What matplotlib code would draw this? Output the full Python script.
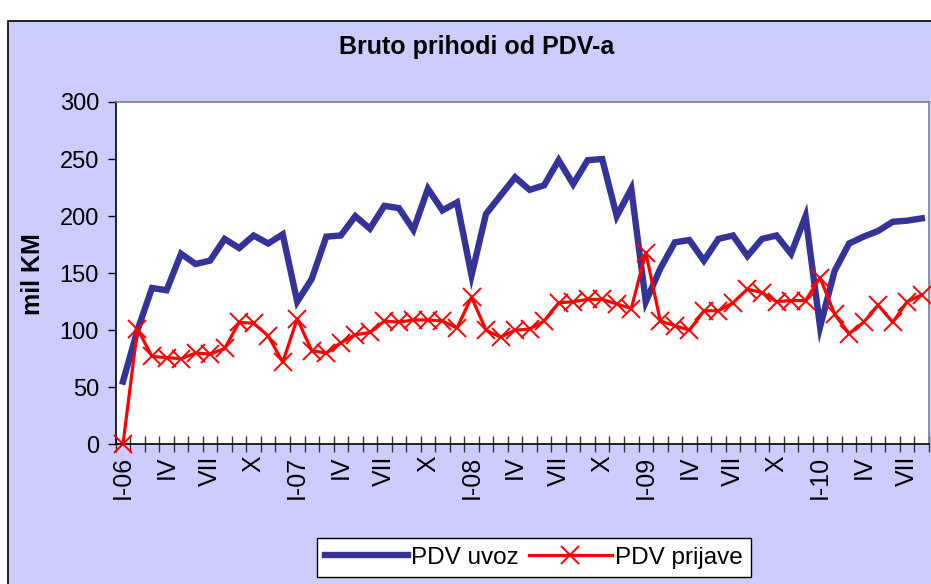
import matplotlib
matplotlib.use("Agg")
import matplotlib.pyplot as plt
from matplotlib.patches import Rectangle
from matplotlib.ticker import FixedLocator, MultipleLocator

plt.rcParams['font.family'] = ['Liberation Sans', 'DejaVu Sans']

# mjesecni podaci I-2006 .. VIII-2010, mil KM
pdv_uvoz = [55, 100, 137, 135, 167, 158, 161, 180, 172, 183, 176, 184,
            125, 145, 182, 183, 200, 189, 209, 207, 188, 224, 205, 212,
            148, 202, 218, 234, 223, 227, 249, 228, 249, 250, 200, 224,
            125, 154, 177, 179, 161, 180, 183, 165, 180, 183, 167, 200,
            103, 152, 176, 182, 187, 195, 196, 198]
pdv_prijave = [0, 101, 77, 76, 75, 80, 79, 84, 107, 106, 95, 72,
               110, 82, 80, 89, 96, 98, 108, 107, 109, 109, 108, 102,
               129, 100, 94, 100, 101, 108, 124, 125, 127, 127, 123, 119,
               168, 108, 104, 100, 117, 117, 124, 136, 133, 125, 126, 126,
               146, 114, 97, 107, 122, 107, 125, 131]
# oznaka za svaki treci mjesec
tick_labels = ["I-06", "IV", "VII", "X", "I-07", "IV", "VII", "X",
               "I-08", "IV", "VII", "X", "I-09", "IV", "VII", "X",
               "I-10", "IV", "VII"]

n = len(pdv_uvoz)
x = list(range(n))

fig = plt.figure(figsize=(9.31, 5.84), dpi=100, facecolor="white")
# pozadina grafikona
fig.patches.append(Rectangle((8 / 931, -0.05), 1.1, 1 - 21 / 584 + 0.05,
                             transform=fig.transFigure, facecolor="#CCCCFF",
                             edgecolor="black", linewidth=1.2, zorder=-10))

ax = fig.add_axes([115.7 / 931, 1 - 444.3 / 584, (929 - 115.7) / 931, (444.3 - 102) / 584])
ax.set_facecolor("white")

ax.plot(x, pdv_uvoz, color="#333399", linewidth=4.6, label="PDV uvoz",
        solid_joinstyle="miter", clip_on=False, zorder=3)
ax.plot(x, pdv_prijave, color="#FF0000", linewidth=2.3, marker="x",
        markersize=13, markeredgewidth=1.4, label="PDV prijave",
        clip_on=False, zorder=4)

ax.set_xlim(-0.5, n - 0.5)
ax.set_ylim(0, 300)
ax.yaxis.set_major_locator(MultipleLocator(50))
ax.tick_params(axis="y", direction="out", length=6, width=1, pad=6,
               labelsize=17, color="black")

ax.xaxis.set_major_locator(FixedLocator(list(range(0, n, 3))))
ax.set_xticklabels(tick_labels, rotation=90, fontsize=18, va="top")
ax.xaxis.set_minor_locator(FixedLocator([k - 0.5 for k in range(n + 1)]))
ax.tick_params(axis="x", which="major", length=0, pad=8)
ax.tick_params(axis="x", which="minor", direction="inout", length=11,
               width=1, color="#333333")

for side in ("top", "right"):
    ax.spines[side].set_color("#808080")
    ax.spines[side].set_linewidth(1.2)
for side in ("left", "bottom"):
    ax.spines[side].set_color("black")
    ax.spines[side].set_linewidth(1.2)

fig.text(477 / 931, 1 - 47 / 584, "Bruto prihodi od PDV-a", ha="center",
         va="center", fontsize=18, fontweight="bold")
fig.text(33 / 931, 1 - 274 / 584, "mil KM", rotation=90, ha="center",
         va="center", fontsize=18, fontweight="bold")

leg = fig.legend(loc="center", bbox_to_anchor=(534 / 931, 1 - 557.5 / 584),
                 ncol=2, fontsize=17.5, frameon=True, fancybox=False,
                 edgecolor="black", facecolor="white", framealpha=1,
                 handlelength=3.4, columnspacing=0.4, handletextpad=0.15,
                 borderpad=0.33, borderaxespad=0)
leg.get_frame().set_linewidth(1.0)

fig.savefig("out.png", dpi=100, facecolor="white")
